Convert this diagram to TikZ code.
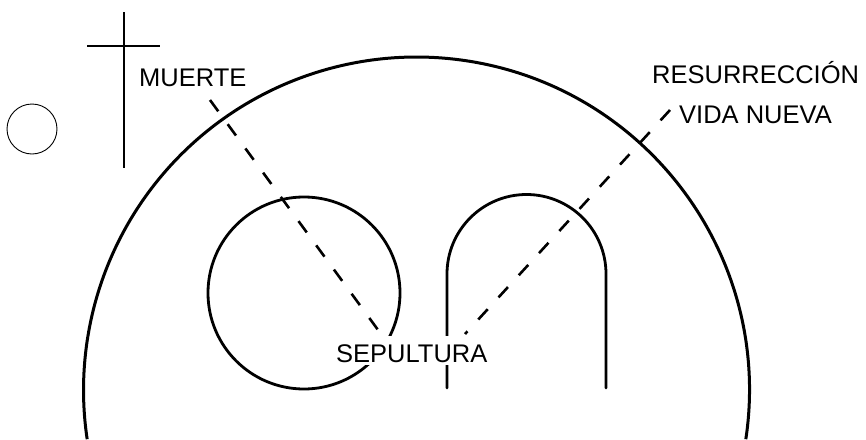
\documentclass[tikz,border=0pt]{standalone}
\usepackage{fontspec}
\setmainfont{Liberation Sans}
\begin{document}
\begin{tikzpicture}[x=1pt,y=-1pt,
  thickline/.style={line width=2.8pt,line cap=round},
  crossline/.style={line width=2.2pt},
  dashline/.style={line width=2.6pt,dash pattern=on 14pt off 16pt},
  lbl/.style={anchor=base west,inner sep=0pt,font=\fontsize{25.5}{30}\selectfont}]
\useasboundingbox (0,0) rectangle (866,439);
% small circle
\draw[line width=0.9pt] (32,129) circle[radius=25];
% cross
\coordinate (ct) at (124,12);
\coordinate (cb) at (124,168);
\coordinate (cl) at (87,46);
\coordinate (cr) at (160,46);
\draw[crossline] (ct) -- (cb);
\draw[crossline] (cl) -- (cr);
% big arc
\draw[line width=3pt] (416.5,390) ++(8.5:333) arc[start angle=8.5,end angle=-188.5,radius=333];
% inner circle
\draw[thickline] (304,293) circle[radius=96];
% arch
\draw[thickline] (447,388) -- (447,274) arc[start angle=180,end angle=360,radius=79.5] -- (606,388);
% labels
\node[lbl] (muerte) at (139,86) {MUERTE};
\node[lbl] (resur) at (652,83) {RESURRECCIÓN};
\node[lbl] (vida) at (679,123) {VIDA NUEVA};
\node[lbl,fill=white,text height=26pt,text depth=3pt] (sep) at (336,362) {SEPULTURA};
% dashed lines
\coordinate (m1) at (210,100);
\coordinate (m2) at (381,334);
\coordinate (r1) at (465,334);
\coordinate (r2) at (670,110);
\draw[dashline] (m1) -- (m2);
\draw[dashline] (r2) -- (r1);
\end{tikzpicture}
\end{document}
